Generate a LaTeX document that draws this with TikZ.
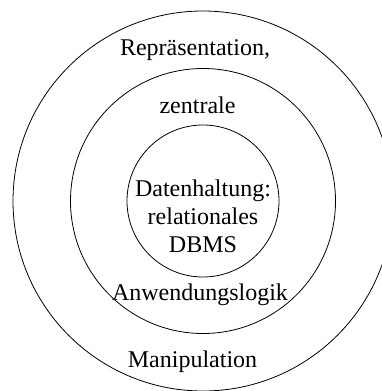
\documentclass[tikz,border=0pt]{standalone}
\usepackage{fontspec}
\setmainfont{Liberation Serif}

\begin{document}
\begin{tikzpicture}[x=1pt,y=1pt,
  ring/.style={circle,draw,line width=0.8pt,inner sep=0pt},
  layer/.style={font=\fontsize{24}{28}\selectfont,inner sep=0pt,anchor=base,align=center}]
\useasboundingbox (0,0) rectangle (382,-391);
\clip (0,0) rectangle (382,-391);
% three layers, same centre
\foreach \nm/\sz in {outer/380,middle/265,inner/152}
  {\node [ring,minimum size=\sz] (\nm) at (203,-201) {};}
\node [layer] (repr) at (195,-55) {Repräsentation,};
\node [layer] (zentr) at (197.5,-113) {zentrale};
\node [layer] (daten) at (203,-252) {Datenhaltung:\\relationales\\DBMS};
\node [layer] (anw) at (200,-300) {Anwendungslogik};
\node [layer] (manip) at (192.5,-367) {Manipulation};
\end{tikzpicture}
\end{document}
